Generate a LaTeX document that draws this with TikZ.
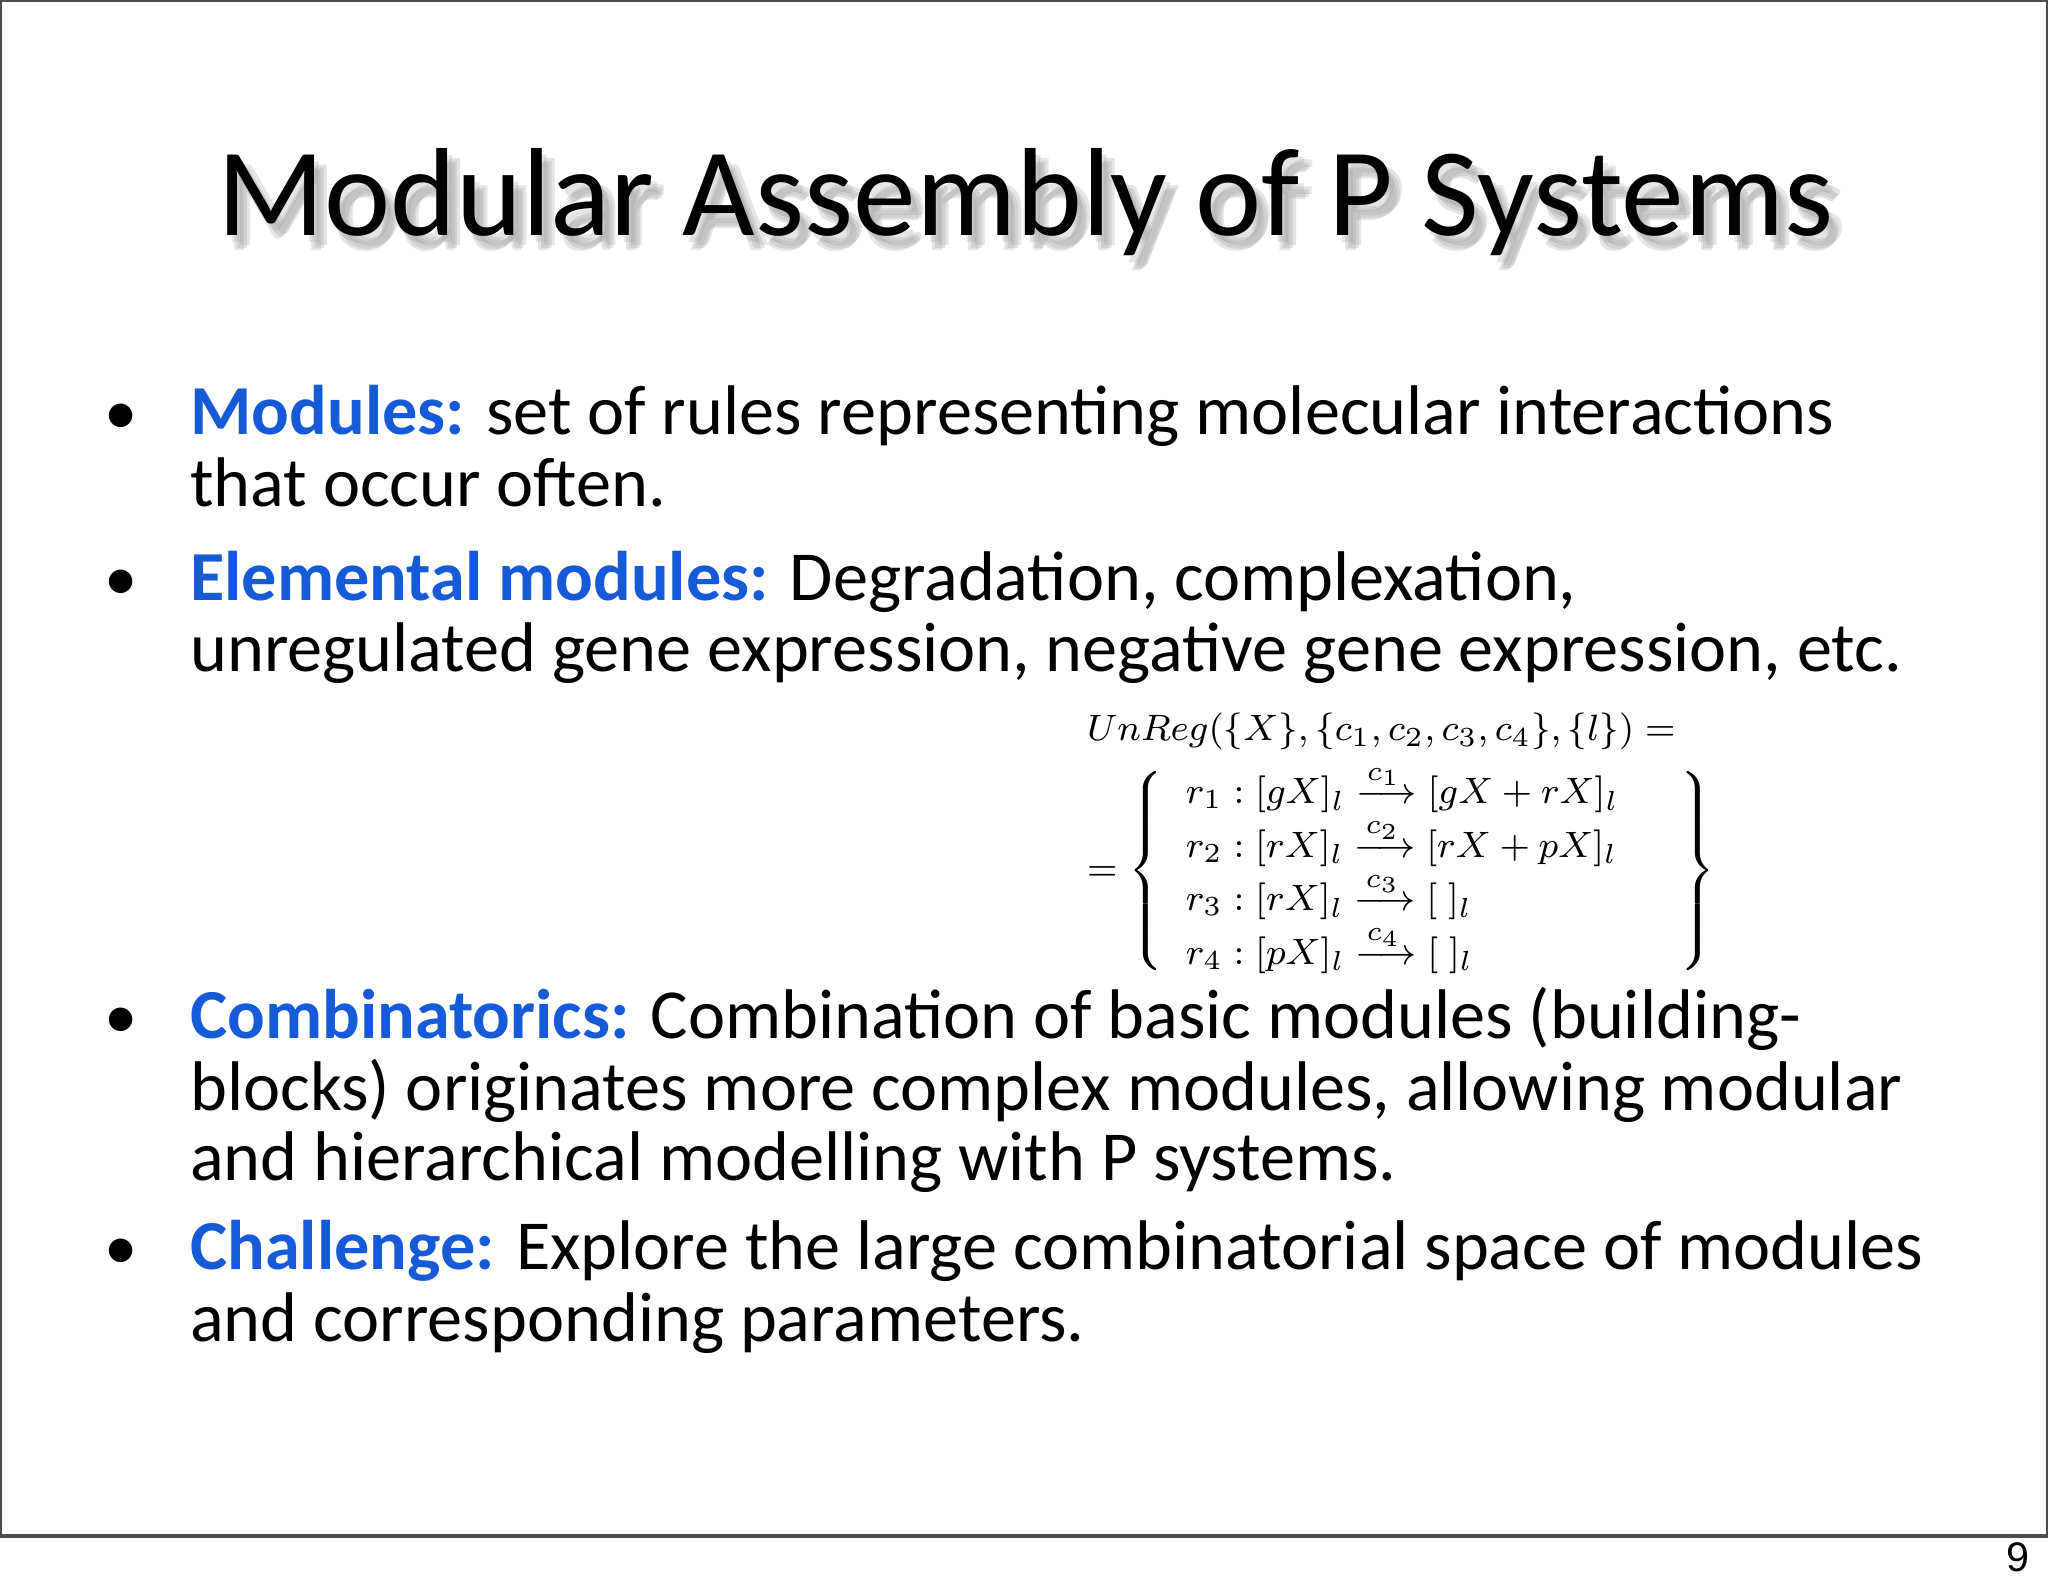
\documentclass[tikz,border=0pt]{standalone}
\usepackage{amsmath}
\usepackage[no-math]{fontspec}
\setmainfont{Carlito}
\newfontfamily\arialf{Liberation Sans}
\definecolor{kwblue}{RGB}{22,90,215}
\begin{document}
\begin{tikzpicture}[x=0.01cm,y=-0.01cm,
  body/.style={anchor=base west,inner sep=0pt,font=\fontsize{15.3}{18}\selectfont},
  bul/.style={anchor=base,inner sep=0pt,font=\fontsize{14.5}{17}\selectfont}]
\useasboundingbox (0,0) rectangle (1568,1219.6);
\draw[line width=0.8pt,black!70] (0,0) rectangle (1568,1176);
\foreach \dx/\dy in {4/6,8/10,6/12,10/8}{
\node[inner sep=0pt,anchor=base,font=\fontsize{27.3}{32}\selectfont,text=black!40,opacity=0.25] at (785+\dx,180+\dy) {Modular Assembly of P Systems};}
\node[inner sep=0pt,anchor=base,font=\fontsize{27.3}{32}\selectfont] (title) at (785,180) {Modular Assembly of P Systems};
\foreach \y/\n in {333/b1,460/b2,795/b3,972/b4}{\node[bul] (\n) at (93,\y) {•};}
\node[body] (l1) at (145,333) {\textcolor{kwblue}{\textbf{Modules:}} set of rules representing molecular interactions};
\node[body] (l2) at (145,388) {that occur often.};
\node[body] (l3) at (145,460) {\textcolor{kwblue}{\textbf{Elemental modules:}} Degradation, complexation,};
\node[body] (l4) at (145,514) {unregulated gene expression, negative gene expression, etc.};
\node[body] (l5) at (145,795) {\textcolor{kwblue}{\textbf{Combinatorics:}} Combination of basic modules (building-};
\node[body] (l6) at (145,850) {blocks) originates more complex modules, allowing modular};
\node[body] (l7) at (145,904) {and hierarchical modelling with P systems.};
\node[body] (l8) at (145,972) {\textcolor{kwblue}{\textbf{Challenge:}} Explore the large combinatorial space of modules};
\node[body] (l9) at (145,1027) {and corresponding parameters.};
\node[inner sep=0pt,anchor=north west,font=\fontsize{8.4}{10}\selectfont] (eq) at (814,542) {$\begin{array}{l}
UnReg(\{X\},\{c_1,c_2,c_3,c_4\},\{l\}) =\\[2pt]
= \left\{\begin{array}{l}
r_1 : [gX]_l \xrightarrow{c_1} [gX+rX]_l\\
r_2 : [rX]_l \xrightarrow{c_2} [rX+pX]_l\\
r_3 : [rX]_l \xrightarrow{c_3} [\;]_l\\
r_4 : [pX]_l \xrightarrow{c_4} [\;]_l
\end{array}\quad\right\}
\end{array}$};
\node[inner sep=0pt,anchor=base,font=\arialf\fontsize{9}{11}\selectfont] (pg) at (1545,1203) {9};
\end{tikzpicture}
\end{document}
